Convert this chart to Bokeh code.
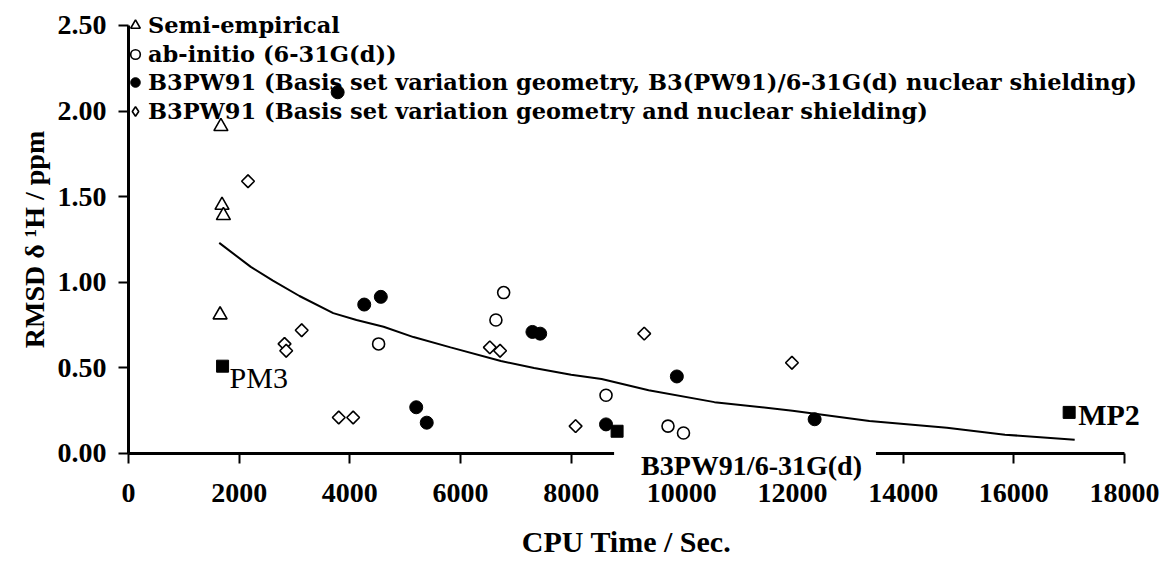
import math
from bokeh.plotting import figure
from bokeh.models import Range1d, FixedTicker, Label, Legend, LegendItem
from bokeh.embed import file_html
from bokeh.resources import INLINE

# ---- data ----
x_ticks = [0, 2000, 4000, 6000, 8000, 10000, 12000, 14000, 16000, 18000]
x_tick_labels = ["0", "2000", "4000", "6000", "8000", "10000", "12000", "14000", "16000", "18000"]
y_ticks = [0.0, 0.5, 1.0, 1.5, 2.0, 2.5]
y_tick_labels = ["0.00", "0.50", "1.00", "1.50", "2.00", "2.50"]

semi_x = [1670, 1690, 1715, 1655]
semi_y = [1.91, 1.45, 1.39, 0.81]

abinitio_x = [4520, 6640, 6780, 8630, 9750, 10030]
abinitio_y = [0.64, 0.78, 0.94, 0.34, 0.16, 0.12]

b3geo_x = [3780, 4260, 4560, 5200, 5390, 7300, 7440, 8630, 9910, 12400]
b3geo_y = [2.11, 0.87, 0.915, 0.27, 0.18, 0.71, 0.70, 0.17, 0.45, 0.20]

b3full_x = [2160, 2820, 2850, 3130, 3800, 4060, 6530, 6715, 8080, 9320, 11990]
b3full_y = [1.59, 0.64, 0.60, 0.72, 0.21, 0.21, 0.62, 0.60, 0.16, 0.70, 0.53]

ref_names = ["PM3", "B3PW91/6-31G(d)", "MP2"]
ref_x = [1700, 8830, 17000]
ref_y = [0.51, 0.13, 0.24]

fit_x = [1640, 2210, 2610, 3090, 3700, 4120, 4610, 5150, 5820, 6730, 7330, 8000,
         8550, 9400, 10590, 12000, 13390, 14790, 15840, 17100]
fit_y = [1.23, 1.09, 1.01, 0.92, 0.82, 0.78, 0.74, 0.68, 0.62, 0.54, 0.50, 0.46,
         0.435, 0.37, 0.30, 0.25, 0.19, 0.15, 0.11, 0.08]

legend_labels = [
    "Semi-empirical",
    "ab-initio (6-31G(d))",
    "B3PW91 (Basis set variation geometry, B3(PW91)/6-31G(d) nuclear shielding)",
    "B3PW91 (Basis set variation geometry and nuclear shielding)",
]

x_label = "CPU Time / Sec."
y_label = "RMSD \u03b4 \u00b9H / ppm"

FONT = "Liberation Serif"
LEGEND_FONT = "DejaVu Serif"

# The frame fills the whole canvas; the axes are pinned at x=0 / y=0 so that
# nothing (legend, labels over the axis) is clipped.
p = figure(width=1162, height=562,
           x_range=Range1d(-2313.3, 18686.8), y_range=Range1d(-0.6367, 2.6460),
           output_backend="svg", toolbar_location=None,
           min_border=0, min_border_left=0, min_border_right=0,
           min_border_top=0, min_border_bottom=0)
p.outline_line_color = None
p.grid.visible = False
p.background_fill_color = "white"
p.border_fill_color = "white"

# axes
p.xaxis.ticker = FixedTicker(ticks=x_ticks)
p.xaxis.major_label_overrides = {t: l for t, l in zip(x_ticks, x_tick_labels)}
p.xaxis.fixed_location = 0
p.xaxis.bounds = (x_ticks[0], x_ticks[-1])
p.yaxis.ticker = FixedTicker(ticks=y_ticks)
p.yaxis.major_label_overrides = {t: l for t, l in zip(y_ticks, y_tick_labels)}
p.yaxis.fixed_location = 0
p.yaxis.bounds = (y_ticks[0], y_ticks[-1])
for ax in (p.xaxis, p.yaxis):
    ax.axis_line_color = "black"
    ax.axis_line_width = 3
    ax.major_tick_line_color = "black"
    ax.major_tick_line_width = 2
    ax.major_tick_in = 0
    ax.major_tick_out = 10
    ax.minor_tick_line_color = None
    ax.major_label_text_font = FONT
    ax.major_label_text_font_style = "bold"
    ax.major_label_text_font_size = "28px"
    ax.major_label_text_color = "black"
    ax.axis_label_text_font = FONT
    ax.axis_label_text_font_style = "bold"
    ax.axis_label_text_font_size = "28px"
    ax.axis_label_text_color = "black"
p.xaxis.major_label_standoff = 21
p.xaxis.axis_label = x_label
p.xaxis.axis_label_text_font_size = "30px"
p.xaxis.axis_label_standoff = 19
p.yaxis.major_label_standoff = 12
p.yaxis.axis_label = y_label
p.yaxis.axis_label_standoff = 5

# trend curve
p.line(fit_x, fit_y, line_color="black", line_width=2)

# series
r_semi = p.scatter(semi_x, semi_y, marker="triangle", size=14,
                   fill_color="white", line_color="black", line_width=1.6)
r_ab = p.scatter(abinitio_x, abinitio_y, marker="circle", size=12,
                 fill_color="white", line_color="black", line_width=1.6)
r_geo = p.scatter(b3geo_x, b3geo_y, marker="circle", size=13,
                  fill_color="black", line_color="black")
# diamond series: a bokeh "diamond" (used for the legend swatch) drawn under
# an equal-sided rotated square that gives the plotted look
r_full_key = p.scatter(b3full_x, b3full_y, marker="diamond", size=12,
                       fill_color="white", line_color="black", line_width=1.6)
r_full = p.scatter(b3full_x, b3full_y, marker="square", angle=math.pi / 4, size=9,
                   fill_color="white", line_color="black", line_width=1.6)
p.scatter(ref_x, ref_y, marker="square", size=12,
          fill_color="black", line_color="black")

# one legend per row so that the tight row pitch of the original is kept
legend_renderers = [r_semi, r_ab, r_geo, r_full_key]
row_bottoms = [523, 494, 466, 437]
for lab, rend, yb in zip(legend_labels, legend_renderers, row_bottoms):
    lg = Legend(items=[LegendItem(label=lab, renderers=[rend])], location=(123, yb))
    lg.background_fill_alpha = 0
    lg.border_line_color = None
    lg.padding = 0
    lg.margin = 0
    lg.spacing = 0
    lg.glyph_width = 24
    lg.glyph_height = 28
    lg.label_height = 28
    lg.label_standoff = 1
    lg.label_text_font = LEGEND_FONT
    lg.label_text_font_style = "bold"
    lg.label_text_font_size = "22.5px"
    lg.label_text_color = "black"
    p.add_layout(lg, "center")

# reference method labels
p.add_layout(Label(x=ref_x[0], y=ref_y[0], text=ref_names[0], x_offset=7, y_offset=5,
                   text_baseline="top", text_font=FONT, text_font_size="30px",
                   text_color="black"))
p.add_layout(Label(x=ref_x[1], y=0, text=ref_names[1], x_offset=-3, y_offset=5,
                   text_baseline="top", text_font=FONT, text_font_size="28px",
                   text_font_style="bold", text_color="black",
                   background_fill_color="white",
                   padding=dict(left=27, right=14, top=2, bottom=2)))
p.add_layout(Label(x=ref_x[2], y=ref_y[2], text=ref_names[2], x_offset=9, y_offset=-2,
                   text_baseline="middle", text_font=FONT, text_font_size="30px",
                   text_font_style="bold", text_color="black"))

open("out.html", "w").write(file_html(p, INLINE))
